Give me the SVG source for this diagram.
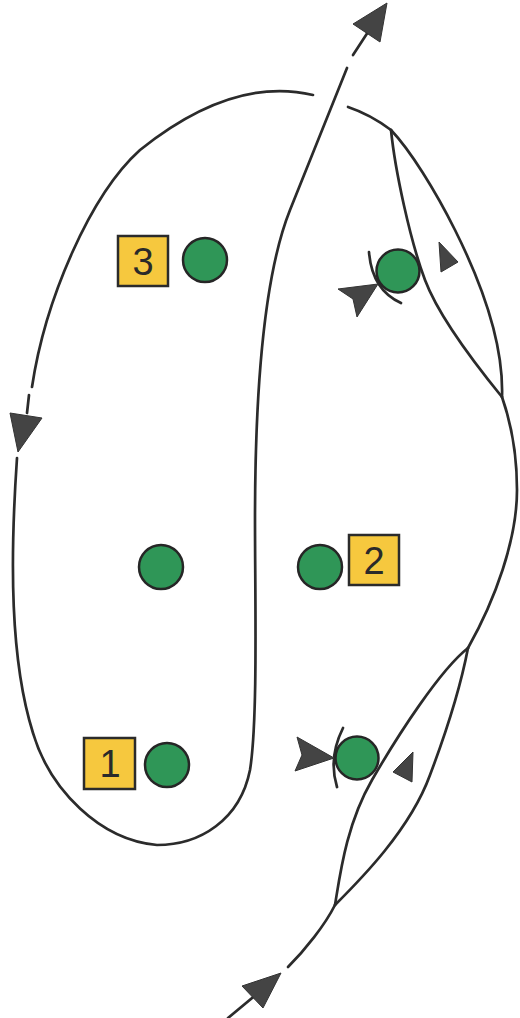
<svg xmlns="http://www.w3.org/2000/svg" width="520" height="1018" viewBox="0 0 520 1018">
<style>
.ln{fill:none;stroke:#2b2b2b;stroke-width:2.7;stroke-linecap:round}
.ah{fill:#444;stroke:#333;stroke-width:1;stroke-linejoin:round}
.pl{fill:#2f9657;stroke:#262626;stroke-width:2.5}
.sq{fill:#f6c83e;stroke:#2b2b2b;stroke-width:2.5}
.lb{font-family:"Liberation Sans",Arial,sans-serif;font-size:38px;fill:#2a2a2a;text-anchor:middle}
</style>
<rect width="520" height="1018" fill="#ffffff"/>
<g id="connectors">
<path class="ln" d="M228,1018 L258,993"/>
<polygon class="ah" points="242,986 281,973 263,1008"/>
<path class="ln" d="M288,967 C305,950 325,925 335,905"/>
<path class="ln" d="M335,905 C340,875 346,825 372,780 S440,670 468,648"/>
<path class="ln" d="M335,905 C360,880 410,830 430,775 C447,730 460,690 468,648"/>
<path class="ln" d="M468,648 C495,600 517,540 517,490 C517,450 510,420 502,397"/>
<path class="ln" d="M502,397 C480,370 440,320 425,280 C410,240 395,170 391,130"/>
<path class="ln" d="M502,397 C504,340 480,280 455,230 C435,190 410,150 391,130"/>
<path class="ln" d="M391,130 C375,118 360,111 348,107"/>
<path class="ln" d="M313,95 C250,80 190,110 140,150 C90,195 45,300 32,387"/>
<path class="ln" d="M29,395 L27,413"/>
<polygon class="ah" points="10,413 42,418 18,452"/>
<path class="ln" d="M17,458 C10,560 10,660 33,733 C50,790 100,840 157,845 C200,845 240,820 250,770 C258,720 255,600 255,520 C255,420 260,285 290,210 L347,68"/>
<path class="ln" d="M353,55 L368,32"/>
<polygon class="ah" points="353,24 387,3 380,42"/>
</g>
<g id="square3"><rect class="sq" x="118" y="236" width="50" height="50"/><text class="lb" x="143" y="275">3</text></g>
<g id="player3"><circle class="pl" cx="205" cy="260" r="22"/></g>
<g id="player-top-right">
<path class="ln" d="M369,252 Q372,290 401,303"/>
<circle class="pl" cx="398" cy="271" r="21.5"/>
<polygon class="ah" points="338,289 378,284 357,317 353,299"/>
<polygon class="ah" points="439,242 458,262 441,272"/>
</g>
<g id="player-mid-left"><circle class="pl" cx="161" cy="567" r="22"/></g>
<g id="player2"><circle class="pl" cx="320" cy="567" r="22"/></g>
<g id="square2"><rect class="sq" x="349" y="535" width="50" height="50"/><text class="lb" x="374" y="574">2</text></g>
<g id="square1"><rect class="sq" x="84" y="738" width="51" height="51"/><text class="lb" x="110" y="777">1</text></g>
<g id="player1"><circle class="pl" cx="167" cy="765" r="22"/></g>
<g id="player-bottom-right">
<path class="ln" d="M343,728 Q328,758 337,787"/>
<circle class="pl" cx="357" cy="758" r="21.5"/>
<polygon class="ah" points="297,737 334,758 295,771 302,755"/>
<polygon class="ah" points="413,752 412,782 393,772"/>
</g>
</svg>
